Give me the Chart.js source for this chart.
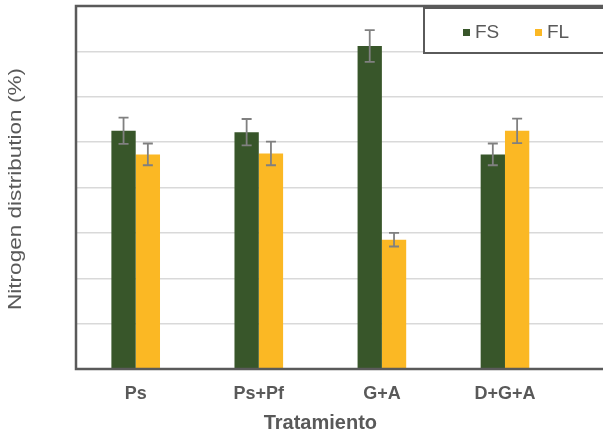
<!DOCTYPE html>
<html>
<head>
<meta charset="utf-8">
<script src="https://cdn.jsdelivr.net/npm/chart.js@4/dist/chart.umd.min.js"></script>
<style>
  body { margin: 0; background: #fff; }
  #frame { width: 603px; height: 445px; overflow: hidden; position: relative; }
  #box { width: 612px; height: 445px; position: absolute; left: 0; top: 0; }
</style>
</head>
<body>
<div id="frame"><div id="box"><canvas id="chart"></canvas></div></div>
<script>
const categories = ["Ps", "Ps+Pf", "G+A", "D+G+A"];
const fsValues = [52.5, 52.2, 71.2, 47.3];
const flValues = [47.3, 47.5, 28.5, 52.5];
const fsErrors = [2.9, 2.9, 3.5, 2.4];
const flErrors = [2.4, 2.6, 1.5, 2.7];
const yTicks = [0, 10, 20, 30, 40, 50, 60, 70, 80];

const GREEN = "#38562a";
const GOLD = "#fbb824";
const TEXT = "#595959";
const FONT = '"Liberation Sans", Arial, sans-serif';

function points(values) {
  return values.map((v, i) => ({ x: i, y: v }));
}

// plot frame, error bars, legend box and axis titles
const extras = {
  id: "extras",
  afterDatasetsDraw(chart) {
    const ctx = chart.ctx;
    const area = chart.chartArea;
    const y = chart.scales.y;

    ctx.save();
    ctx.strokeStyle = "#5a5a5a";
    ctx.lineWidth = 2.5;
    ctx.strokeRect(area.left, area.top, area.right - area.left, area.bottom - area.top);

    const errs = [fsErrors, flErrors];
    ctx.strokeStyle = "#808080";
    ctx.lineWidth = 1.8;
    chart.data.datasets.forEach((ds, d) => {
      chart.getDatasetMeta(d).data.forEach((bar, i) => {
        const v = ds.data[i].y;
        const top = y.getPixelForValue(v + errs[d][i]);
        const bot = y.getPixelForValue(v - errs[d][i]);
        ctx.beginPath();
        ctx.moveTo(bar.x, top); ctx.lineTo(bar.x, bot);
        ctx.moveTo(bar.x - 5, top); ctx.lineTo(bar.x + 5, top);
        ctx.moveTo(bar.x - 5, bot); ctx.lineTo(bar.x + 5, bot);
        ctx.stroke();
      });
    });
    ctx.restore();
  },
  afterDraw(chart) {
    const ctx = chart.ctx;
    ctx.save();

    // legend
    const lx = 424, ly = 8, lw = 200, lh = 45;
    ctx.fillStyle = "#fff";
    ctx.fillRect(lx, ly, lw, lh);
    ctx.strokeStyle = "#5a5a5a";
    ctx.lineWidth = 2;
    ctx.strokeRect(lx, ly, lw, lh);
    ctx.font = "19px " + FONT;
    ctx.textBaseline = "middle";
    const items = [[463, 0], [535, 1]];
    items.forEach(([x, d]) => {
      const ds = chart.data.datasets[d];
      ctx.fillStyle = ds.backgroundColor;
      ctx.fillRect(x, 29, 7, 7);
      ctx.fillStyle = TEXT;
      ctx.textAlign = "left";
      ctx.fillText(ds.label, x + 12, 32.5);
    });

    // x title, centred on the categories
    const cx = chart.scales.x.getPixelForValue((categories.length - 1) / 2);
    ctx.font = "bold 20px " + FONT;
    ctx.textAlign = "center";
    ctx.fillStyle = TEXT;
    ctx.fillText("Tratamiento", cx, 423);

    // y title
    const label = "Nitrogen distribution (%)";
    ctx.font = "18px " + FONT;
    const w = ctx.measureText(label).width;
    ctx.translate(16, 189);
    ctx.rotate(-Math.PI / 2);
    ctx.scale(242 / w, 1);
    ctx.fillText(label, 0, 0);
    ctx.restore();
  }
};

new Chart(document.getElementById("chart"), {
  type: "bar",
  data: {
    datasets: [
      { label: "FS", data: points(fsValues), backgroundColor: GREEN },
      { label: "FL", data: points(flValues), backgroundColor: GOLD }
    ]
  },
  options: {
    responsive: true,
    maintainAspectRatio: false,
    animation: false,
    events: [],
    layout: { padding: { left: 0, top: 6, right: 4, bottom: 0 } },
    categoryPercentage: 0.395,
    barPercentage: 1.0,
    plugins: { legend: { display: false }, tooltip: { enabled: false } },
    scales: {
      x: {
        type: "linear",
        offset: false,
        min: -0.485,
        max: 3.837,
        grid: { display: false, drawTicks: false, offset: false },
        border: { display: false },
        afterBuildTicks: (s) => { s.ticks = categories.map((c, i) => ({ value: i })); },
        afterFit: (s) => { s.height = 76; },
        ticks: {
          padding: 14,
          color: TEXT,
          font: { family: FONT, size: 18, weight: "bold" },
          callback: (v) => categories[v]
        }
      },
      y: {
        min: yTicks[0],
        max: yTicks[yTicks.length - 1],
        afterBuildTicks: (s) => { s.ticks = yTicks.map((v) => ({ value: v })); },
        afterFit: (s) => { s.width = 76; },
        grid: { color: "#d9d9d9", lineWidth: 1.5, drawTicks: false },
        border: { display: false },
        ticks: { display: false }
      }
    }
  },
  plugins: [extras]
});
</script>
</body>
</html>
